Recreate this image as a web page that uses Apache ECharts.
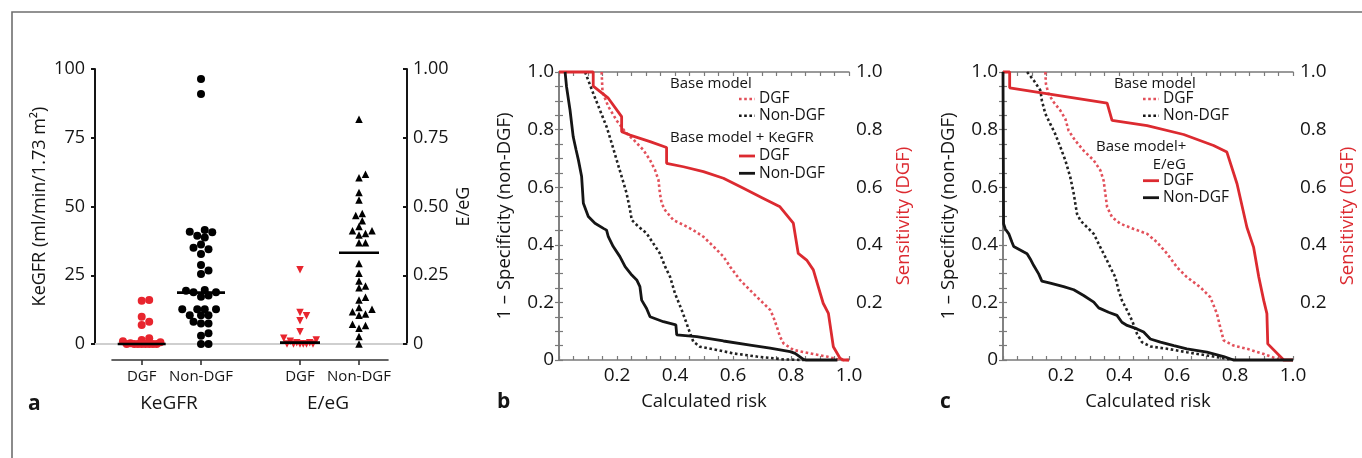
<!DOCTYPE html>
<html>
<head>
<meta charset="utf-8">
<script src="https://cdn.jsdelivr.net/npm/echarts@6/dist/echarts.min.js"></script>
<style>
html, body { margin: 0; padding: 0; background: #fff; }
#main { width: 1362px; height: 458px; }
</style>
</head>
<body>
<div id="main"></div>
<script>
// ---- panel a : dot plots ----
var groupLabels = ['DGF', 'Non-DGF', 'DGF', 'Non-DGF'];
var kegfrDGF = [16, 15.7, 9.9, 8.1, 6.9, 2.1, 1.5, 1, 0.6, 0.3, 0, 0, 0, 0, 0, 0, 0, 0];
var kegfrNonDGF = [96.4, 90.9, 41.5, 40.8, 40.6, 39.4, 38.7, 36.2, 35, 34.5, 32.7, 28.7, 26.7, 25.5,
  19.6, 19.4, 18.8, 18.8, 17.6, 17.2, 12.6, 12.6, 12.6, 12.6, 10.5, 10.5, 10.5, 8.1, 7.5, 7.5, 3.9, 3, 0, 0];
var eegDGF = [0.27, 0.115, 0.103, 0.085, 0.045, 0.021, 0.015, 0.01, 0.005, 0.005, 0, 0, 0, 0, 0, 0];
var eegNonDGF = [0.817, 0.617, 0.605, 0.551, 0.524, 0.475, 0.467, 0.448, 0.427, 0.412, 0.412, 0.402, 0.396,
  0.368, 0.368, 0.293, 0.257, 0.229, 0.211, 0.205, 0.17, 0.16, 0.133, 0.126, 0.117, 0.109, 0.105,
  0.072, 0.067, 0.057, 0.027, 0];
var centreLines = [0, 18.7, 0.005, 0.332];

// ---- panel b : base model and base model + KeGFR, [calculated risk, fraction] ----
var bBaseDGF = [[0.147,1],[0.15,0.93],[0.17,0.88],[0.2,0.83],[0.23,0.79],[0.257,0.765],[0.291,0.729],[0.314,0.694],
  [0.331,0.66],[0.343,0.625],[0.348,0.579],[0.354,0.544],[0.366,0.52],[0.394,0.486],[0.429,0.469],[0.463,0.451],
  [0.498,0.428],[0.533,0.394],[0.567,0.359],[0.59,0.324],[0.624,0.278],[0.67,0.231],[0.705,0.197],[0.728,0.174],
  [0.739,0.15],[0.751,0.116],[0.762,0.081],[0.774,0.058],[0.808,0.035],[0.866,0.023],[0.923,0.012],[0.97,0],[1,0]];
var bBaseNonDGF = [[0.09,1],[0.118,0.926],[0.141,0.868],[0.164,0.81],[0.182,0.752],[0.199,0.694],[0.216,0.637],
  [0.233,0.579],[0.245,0.521],[0.251,0.486],[0.274,0.463],[0.302,0.44],[0.325,0.405],[0.348,0.37],[0.366,0.324],
  [0.383,0.289],[0.4,0.231],[0.423,0.174],[0.44,0.127],[0.452,0.093],[0.463,0.064],[0.486,0.046],[0.544,0.035],
  [0.601,0.023],[0.682,0.012],[0.774,0.002],[0.85,0]];
var bKegfrDGF = [[0,1],[0.118,1],[0.118,0.951],[0.17,0.909],[0.216,0.845],[0.216,0.793],[0.245,0.781],[0.314,0.758],
  [0.371,0.738],[0.371,0.683],[0.429,0.671],[0.498,0.654],[0.567,0.631],[0.636,0.596],[0.705,0.561],[0.762,0.532],
  [0.808,0.475],[0.825,0.37],[0.854,0.347],[0.877,0.313],[0.894,0.255],[0.911,0.197],[0.929,0.162],[0.946,0.046],
  [0.969,0.006],[0.98,0],[1,0]];
var bKegfrNonDGF = [[0.021,1],[0.026,0.949],[0.038,0.868],[0.049,0.775],[0.059,0.729],[0.067,0.694],[0.078,0.637],
  [0.084,0.544],[0.101,0.498],[0.124,0.475],[0.153,0.457],[0.164,0.451],[0.17,0.428],[0.187,0.394],[0.21,0.359],
  [0.228,0.324],[0.251,0.295],[0.268,0.278],[0.279,0.255],[0.285,0.208],[0.302,0.179],[0.314,0.15],[0.36,0.133],
  [0.403,0.122],[0.406,0.087],[0.475,0.081],[0.567,0.066],[0.659,0.052],[0.728,0.041],[0.797,0.029],[0.814,0.023],
  [0.843,0.002],[0.85,0],[0.96,0]];

// ---- panel c : base model and base model + E/eG ----
var cBaseDGF = [[0.146,1],[0.148,0.959],[0.157,0.924],[0.175,0.895],[0.198,0.866],[0.215,0.837],[0.226,0.797],
  [0.249,0.762],[0.278,0.727],[0.313,0.693],[0.336,0.658],[0.347,0.623],[0.353,0.577],[0.359,0.531],[0.376,0.496],
  [0.405,0.473],[0.451,0.455],[0.497,0.438],[0.531,0.409],[0.566,0.369],[0.6,0.322],[0.634,0.288],[0.68,0.253],
  [0.715,0.218],[0.738,0.16],[0.749,0.114],[0.761,0.068],[0.795,0.05],[0.841,0.039],[0.899,0.021],[0.945,0.004],[0.97,0]];
var cBaseNonDGF = [[0.083,1],[0.106,0.971],[0.129,0.936],[0.134,0.901],[0.146,0.855],[0.163,0.82],[0.18,0.785],
  [0.198,0.739],[0.215,0.693],[0.232,0.635],[0.244,0.577],[0.255,0.508],[0.267,0.484],[0.29,0.461],[0.313,0.438],
  [0.33,0.403],[0.353,0.357],[0.37,0.322],[0.387,0.288],[0.399,0.241],[0.41,0.207],[0.428,0.172],[0.445,0.137],
  [0.462,0.091],[0.479,0.062],[0.508,0.047],[0.566,0.039],[0.634,0.027],[0.726,0.012],[0.795,0]];
var cEegDGF = [[0,1],[0.023,1],[0.023,0.945],[0.359,0.892],[0.376,0.832],[0.497,0.814],[0.623,0.783],[0.726,0.745],
  [0.772,0.722],[0.807,0.612],[0.841,0.461],[0.864,0.392],[0.882,0.288],[0.899,0.207],[0.91,0.161],[0.913,0.056],
  [0.968,0],[1,0]];
var cEegNonDGF = [[0,1],[0.002,0.473],[0.008,0.455],[0.02,0.438],[0.031,0.409],[0.037,0.394],[0.083,0.369],
  [0.094,0.351],[0.106,0.328],[0.123,0.299],[0.134,0.274],[0.163,0.267],[0.209,0.255],[0.244,0.244],[0.278,0.224],
  [0.313,0.201],[0.33,0.181],[0.364,0.166],[0.393,0.155],[0.41,0.131],[0.428,0.12],[0.462,0.108],[0.485,0.097],
  [0.508,0.073],[0.543,0.062],[0.589,0.05],[0.634,0.039],[0.703,0.027],[0.761,0.012],[0.795,0],[1,0]];

var FONT = 'Open Sans';
var RED = '#dc2a30';
var INK = '#151515';
var BOX = '#7a7a7a';

// layout of panel a (x axis counted in pixels from the left axis)
var gridA = { left: 95, top: 69, width: 312, height: 275 };
var groupCentres = [46.7, 106, 205, 264];

// simple beeswarm: spread points sideways so that they do not overlap
function swarm(values, pxPerUnit, minDist, step, maxHalf) {
  var order = values.map(function (v, i) { return i; })
    .sort(function (p, q) { return values[p] - values[q]; });
  var placed = [];
  var offsets = [];
  order.forEach(function (i) {
    var y = values[i] * pxPerUnit;
    var best = 0, bestGap = -1, done = false;
    for (var k = 0; k * step <= maxHalf && !done; k++) {
      var cands = k === 0 ? [0] : [k * step, -k * step];
      for (var c = 0; c < cands.length; c++) {
        var gap = Infinity;
        for (var j = 0; j < placed.length; j++) {
          var dx = placed[j][0] - cands[c], dy = placed[j][1] - y;
          gap = Math.min(gap, Math.sqrt(dx * dx + dy * dy));
        }
        if (gap >= minDist) { best = cands[c]; done = true; break; }
        if (gap > bestGap) { bestGap = gap; best = cands[c]; }
      }
    }
    placed.push([best, y]);
    offsets[i] = best;
  });
  return offsets;
}

function dots(values, centre, pxPerUnit, minDist, step, maxHalf) {
  var off = swarm(values, pxPerUnit, minDist, step, maxHalf);
  return values.map(function (v, i) { return [centre + off[i], v]; });
}

var kPx = gridA.height / 100, ePx = gridA.height / 1;

function rocX(gridIndex, pos) {
  var top = pos === 'top';
  return {
    gridIndex: gridIndex, type: 'value', min: 0, max: 1, interval: 0.2, position: pos,
    axisLine: { show: true, onZero: false, lineStyle: { color: BOX, width: 1.5 } },
    axisTick: { show: true, inside: true, length: 4, lineStyle: { color: BOX, width: 1.2 } },
    minorTick: { show: true, splitNumber: 4, length: 4, lineStyle: { color: BOX, width: 1.2 } },
    splitLine: { show: false },
    axisLabel: {
      show: !top, margin: 6, color: INK, fontFamily: FONT, fontSize: 19,
      formatter: function (v) { return v === 0 ? '' : v.toFixed(1); }
    },
    name: top ? '' : 'Calculated risk', nameLocation: 'middle', nameGap: 32,
    nameTextStyle: { color: INK, fontFamily: FONT, fontSize: 18.5 }
  };
}
function rocY(gridIndex, pos) {
  var left = pos === 'left';
  return {
    gridIndex: gridIndex, type: 'value', min: 0, max: 1, interval: 0.2, position: pos,
    axisLine: { show: true, lineStyle: { color: BOX, width: 1.5 } },
    axisTick: { show: true, inside: true, length: 4, lineStyle: { color: BOX, width: 1.2 } },
    minorTick: { show: true, splitNumber: 4, length: 4, lineStyle: { color: BOX, width: 1.2 } },
    splitLine: { show: false },
    axisLabel: {
      margin: left ? 5 : 7, color: INK, fontFamily: FONT, fontSize: 19,
      formatter: function (v) { return v === 0 ? (left ? '0' : '') : v.toFixed(1); }
    },
    name: left ? '1 \u2013 Specificity (non-DGF)' : 'Sensitivity (DGF)',
    nameLocation: 'middle', nameRotate: 90, nameGap: 45,
    nameTextStyle: { color: left ? INK : RED, fontFamily: FONT, fontSize: 18.5 }
  };
}

function curve(name, data, xi, yi, color, dotted) {
  return {
    name: name, type: 'line', xAxisIndex: xi, yAxisIndex: yi, data: data,
    symbol: 'none', clip: false, z: dotted ? 3 : 4, animation: false,
    lineStyle: { color: color, width: dotted ? 2.6 : 2.8, type: dotted ? 'dotted' : 'solid' }
  };
}

// legend blocks drawn as graphics
var legendRows = [
  { head: 'Base model', x: 670, y: 83.3 },
  { key: 'dot', color: '#e2505a', text: 'DGF', x: 739, y: 99 },
  { key: 'dot', color: INK, text: 'Non-DGF', x: 739, y: 115.7 },
  { head: 'Base model + KeGFR', x: 670, y: 137.7 },
  { key: 'solid', color: RED, text: 'DGF', x: 739, y: 156 },
  { key: 'solid', color: INK, text: 'Non-DGF', x: 739, y: 173.3 },
  { head: 'Base model', x: 1114, y: 83.3 },
  { key: 'dot', color: '#e2505a', text: 'DGF', x: 1143, y: 99 },
  { key: 'dot', color: INK, text: 'Non-DGF', x: 1143, y: 115.7 },
  { head: 'Base model+', x: 1096, y: 146.7 },
  { head: 'E/eG', x: 1152.7, y: 164.3 },
  { key: 'solid', color: RED, text: 'DGF', x: 1143, y: 180.7 },
  { key: 'solid', color: INK, text: 'Non-DGF', x: 1143, y: 197.7 }
];
var graphics = [{
  type: 'rect', shape: { x: 12, y: 12, width: 1400, height: 500 }, silent: true,
  style: { fill: 'none', stroke: '#6f6f6f', lineWidth: 1.6 }
}];
legendRows.forEach(function (r) {
  if (r.head) {
    graphics.push({ type: 'text', style: { x: r.x, y: r.y, text: r.head, fill: INK,
      font: '15px "' + FONT + '"', align: 'left', verticalAlign: 'middle' } });
  } else {
    graphics.push({ type: 'line', shape: { x1: r.x, y1: r.y, x2: r.x + 16, y2: r.y },
      style: { stroke: r.color, lineWidth: r.key === 'dot' ? 2.6 : 2.8, lineDash: r.key === 'dot' ? [2.6, 2.6] : null } });
    graphics.push({ type: 'text', style: { x: r.x + 20, y: r.y, text: r.text, fill: INK,
      font: '15.5px "' + FONT + '"', align: 'left', verticalAlign: 'middle' } });
  }
});
[['a', 28, 404], ['b', 497, 402], ['c', 940, 402]].forEach(function (p) {
  graphics.push({ type: 'text', style: { x: p[1], y: p[2], text: p[0], fill: INK,
    font: 'bold 21px "' + FONT + '"', align: 'left', verticalAlign: 'middle' } });
});
[['KeGFR', 169, 404], ['E/eG', 328, 404]].forEach(function (p) {
  graphics.push({ type: 'text', style: { x: p[1], y: p[2], text: p[0], fill: INK,
    font: '19px "' + FONT + '"', align: 'center', verticalAlign: 'middle' } });
});

var option = {
  animation: false,
  backgroundColor: '#fff',
  grid: [
    { left: gridA.left, top: gridA.top, width: gridA.width, height: gridA.height },
    { left: 112, top: 340, width: 276, height: 20 },
    { left: 559, top: 72, width: 290, height: 288 },
    { left: 1003, top: 72, width: 290, height: 288 }
  ],
  xAxis: [
    { gridIndex: 0, type: 'value', min: 0, max: gridA.width,
      axisLine: { show: true, lineStyle: { color: '#cfcfcf', width: 2 } },
      axisTick: { show: false }, axisLabel: { show: false }, splitLine: { show: false } },
    { gridIndex: 1, type: 'value', min: 17, max: 293, position: 'bottom',
      axisLine: { show: true, lineStyle: { color: '#333', width: 1.6 } },
      axisTick: { show: true, length: 5, customValues: groupCentres, lineStyle: { color: '#333', width: 1.6 } },
      axisLabel: { show: true, customValues: groupCentres, margin: 9, color: INK, fontFamily: FONT, fontSize: 15,
        formatter: function (v) {
          var i = groupCentres.indexOf(v);
          return i < 0 ? '' : groupLabels[i];
        } },
      splitLine: { show: false } },
    rocX(2, 'bottom'), rocX(2, 'top'),
    rocX(3, 'bottom'), rocX(3, 'top')
  ],
  yAxis: [
    { gridIndex: 0, type: 'value', min: 0, max: 100, interval: 25, position: 'left',
      axisLine: { show: true, lineStyle: { color: INK, width: 2 } },
      axisTick: { show: true, length: 4, lineStyle: { color: INK, width: 2 } },
      axisLabel: { margin: 10, color: INK, fontFamily: FONT, fontSize: 18 },
      splitLine: { show: false },
      name: 'KeGFR (ml/min/1.73 m\u00b2)', nameLocation: 'middle', nameRotate: 90, nameGap: 46,
      nameTextStyle: { color: INK, fontFamily: FONT, fontSize: 18 } },
    { gridIndex: 0, type: 'value', min: 0, max: 1, interval: 0.25, position: 'right',
      axisLine: { show: true, lineStyle: { color: INK, width: 2 } },
      axisTick: { show: true, inside: true, length: 4, lineStyle: { color: INK, width: 2 } },
      axisLabel: { margin: 6, color: INK, fontFamily: FONT, fontSize: 18,
        formatter: function (v) { return v === 0 ? '0' : v.toFixed(2); } },
      splitLine: { show: false },
      name: 'E/eG', nameLocation: 'middle', nameRotate: 90, nameGap: 48,
      nameTextStyle: { color: INK, fontFamily: FONT, fontSize: 18 } },
    { gridIndex: 1, show: false, min: 0, max: 1 },
    rocY(2, 'left'), rocY(2, 'right'),
    rocY(3, 'left'), rocY(3, 'right')
  ],
  graphic: graphics,
  series: [
    { type: 'scatter', xAxisIndex: 0, yAxisIndex: 0, clip: false, symbol: 'circle', symbolSize: 8,
      itemStyle: { color: '#e8252e', opacity: 1 }, data: dots(kegfrDGF, groupCentres[0], kPx, 7.5, 3.75, 22) },
    { type: 'scatter', xAxisIndex: 0, yAxisIndex: 0, clip: false, symbol: 'circle', symbolSize: 8,
      itemStyle: { color: '#000', opacity: 1 }, data: dots(kegfrNonDGF, groupCentres[1], kPx, 7.5, 3.75, 22) },
    { type: 'scatter', xAxisIndex: 0, yAxisIndex: 1, clip: false, symbol: 'triangle', symbolRotate: 180,
      symbolSize: 7.5, itemStyle: { color: '#e8252e', opacity: 1 }, data: dots(eegDGF, groupCentres[2], ePx, 6.5, 3.25, 18) },
    { type: 'scatter', xAxisIndex: 0, yAxisIndex: 1, clip: false, symbol: 'triangle',
      symbolSize: 7.5, itemStyle: { color: '#000', opacity: 1 }, data: dots(eegNonDGF, groupCentres[3], ePx, 6.5, 3.25, 18) },
    { type: 'scatter', xAxisIndex: 0, yAxisIndex: 0, clip: false, symbol: 'rect', symbolSize: [48, 2.6], z: 5,
      itemStyle: { color: '#000', opacity: 1 }, data: [[groupCentres[0], centreLines[0]], [groupCentres[1], centreLines[1]]] },
    { type: 'scatter', xAxisIndex: 0, yAxisIndex: 1, clip: false, symbol: 'rect', symbolSize: [40, 2.6], z: 5,
      itemStyle: { color: '#000', opacity: 1 }, data: [[groupCentres[2], centreLines[2]], [groupCentres[3], centreLines[3]]] },

    curve('b base DGF', bBaseDGF, 2, 3, '#e2505a', true),
    curve('b base Non-DGF', bBaseNonDGF, 2, 3, '#222', true),
    curve('b KeGFR DGF', bKegfrDGF, 2, 3, RED, false),
    curve('b KeGFR Non-DGF', bKegfrNonDGF, 2, 3, INK, false),

    curve('c base DGF', cBaseDGF, 4, 5, '#e2505a', true),
    curve('c base Non-DGF', cBaseNonDGF, 4, 5, '#222', true),
    curve('c E/eG DGF', cEegDGF, 4, 5, RED, false),
    curve('c E/eG Non-DGF', cEegNonDGF, 4, 5, INK, false)
  ]
};

var chart = echarts.init(document.getElementById('main'));
chart.setOption(option);
</script>
</body>
</html>
